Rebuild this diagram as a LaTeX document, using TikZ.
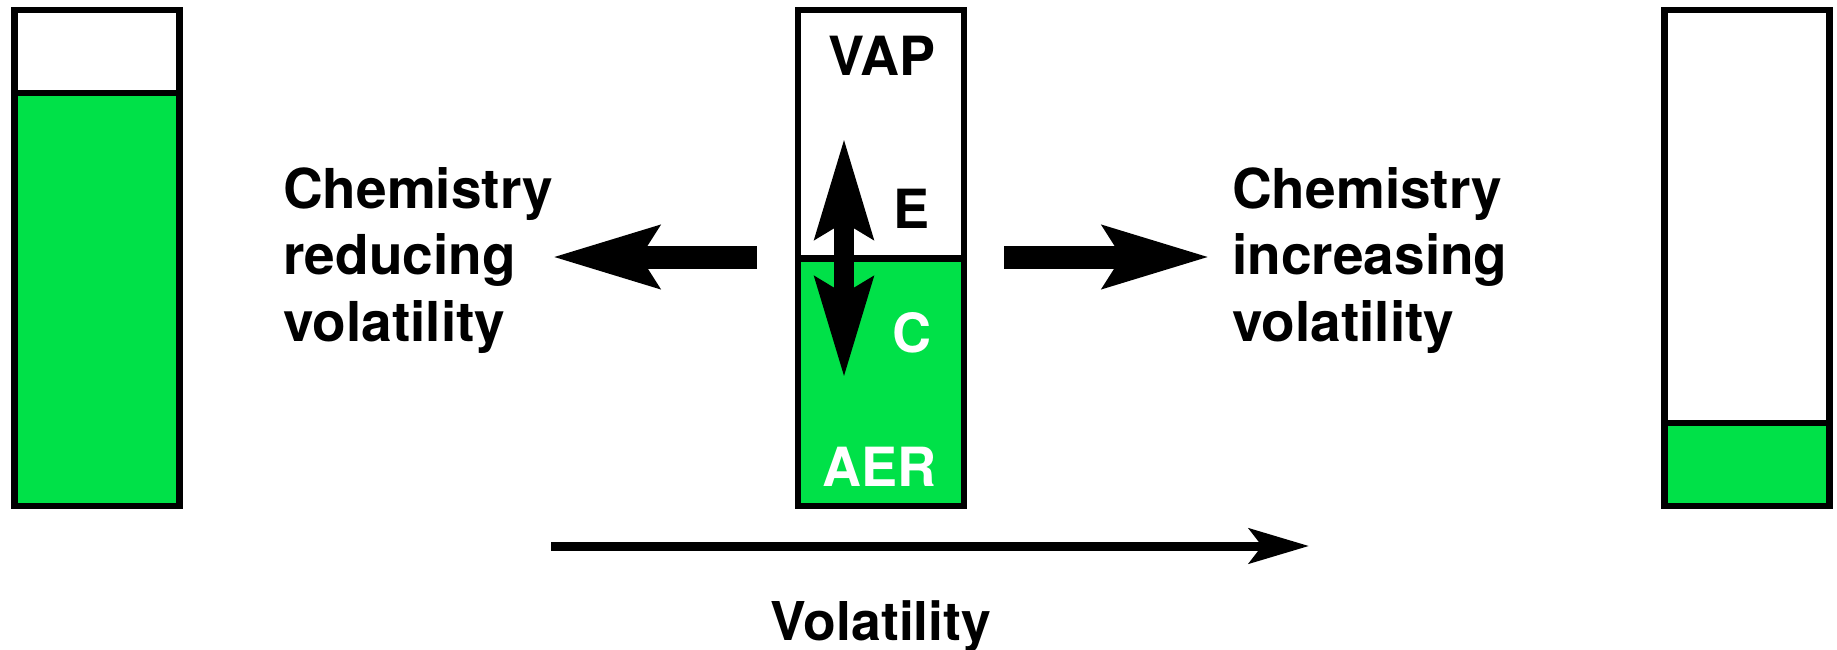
\documentclass[tikz,border=0pt]{standalone}
\usepackage{fontspec}
\setmainfont{TeX Gyre Heros}
\usetikzlibrary{arrows.meta}
\definecolor{liquid}{RGB}{0,225,72}
\tikzset{
  vessel/.style={draw=black, line width=6.5pt},
  label/.style={inner sep=0pt, font=\fontsize{54}{66}\selectfont\bfseries},
  sidetext/.style={inner sep=0pt, align=left, anchor=north west,
    font=\fontsize{55}{66.5}\selectfont\bfseries},
  bigarrow/.style={line width=23pt, -{Stealth[length=105pt,width=60pt,inset=17pt]}},
  duoarrow/.style={line width=20pt, {Stealth[length=99pt,width=56pt,inset=15pt]}-{Stealth[length=99pt,width=56pt,inset=15pt]}},
  axisarrow/.style={line width=9pt, -{Stealth[length=60pt,width=35pt,inset=13pt]}}
}
\begin{document}
\begin{tikzpicture}[x=1pt,y=-1pt]
\useasboundingbox (0,0) rectangle (1837,650);

% left vessel: mostly liquid
\fill[liquid] (14.5,93) rectangle (179.5,506);
\draw[vessel] (14.5,93) -- (179.5,93);
\draw[vessel] (14.5,10) rectangle (179.5,506);

% centre vessel: vapour over liquid
\fill[liquid] (798,258.5) rectangle (964,506);
\draw[vessel] (798,258.5) -- (964,258.5);
\draw[vessel] (798,10) rectangle (964,506);

% right vessel: little liquid left
\fill[liquid] (1664.5,423) rectangle (1829.5,506);
\draw[vessel] (1664.5,423) -- (1829.5,423);
\draw[vessel] (1664.5,10) rectangle (1829.5,506);

% labels inside the centre vessel
\node[label] (vap) at (882,56) {VAP};
\node[label] (e) at (911,209) {E};
\node[label, text=white] (c) at (912,333) {C};
\node[label, text=white] (aer) at (879,467) {AER};

% evaporation / condensation exchange
\coordinate (up) at (844,138);
\coordinate (down) at (844,378);
\draw[duoarrow] (down) -- (up);

% side descriptions
\node[sidetext] (reduce) at (283,167) {Chemistry\\reducing\\volatility};
\node[sidetext] (increase) at (1232,167) {Chemistry\\increasing\\volatility};

% chemistry arrows
\coordinate (ls) at (757,257);
\coordinate (lt) at (552,257);
\draw[bigarrow] (ls) -- (lt);
\coordinate (rs) at (1004,257);
\coordinate (rt) at (1210,257);
\draw[bigarrow] (rs) -- (rt);

% volatility axis
\coordinate (as) at (551,546);
\coordinate (at) at (1309,546);
\draw[axisarrow] (as) -- (at);
\node[inner sep=0pt, anchor=base, font=\fontsize{53.5}{60}\selectfont\bfseries] (vol) at (881,640) {Volatility};
\end{tikzpicture}
\end{document}
